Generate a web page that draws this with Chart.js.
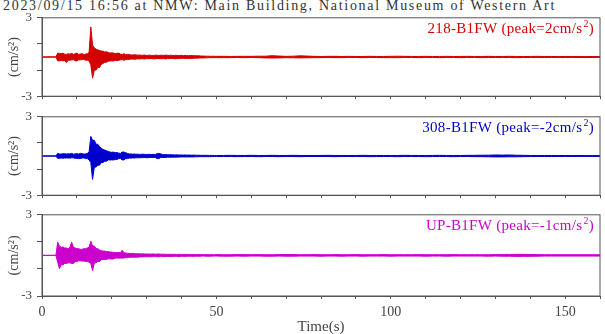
<!DOCTYPE html>
<html>
<head>
<meta charset="utf-8">
<script src="https://cdn.jsdelivr.net/npm/chart.js@4/dist/chart.umd.min.js"></script>
<style>
  body { margin: 0; width: 605px; height: 334px; background: #fff; overflow: hidden; position: relative; font-family: "Liberation Serif", serif; }
  .panel { position: absolute; left: 0; width: 605px; }
  #titre { position: absolute; left: 3px; top: -2px; font-size: 14px; letter-spacing: 1.7px; color: #333; white-space: nowrap; }
</style>
</head>
<body>
<div id="titre">2023/09/15 16:56 at NMW: Main Building, National Museum of Western Art</div>
<div class="panel" style="top:5px;height:104px"><canvas id="c1"></canvas></div>
<div class="panel" style="top:104px;height:104px"><canvas id="c2"></canvas></div>
<div class="panel" style="top:202px;height:135px"><canvas id="c3"></canvas></div>
<script>
// envelope (max / min) of each trace: 0-50 s every 0.5 s, then 52-160 s every 2 s
const passo1 = 0.5;
const inicio2 = 52, passo2 = 2;

const xTicks = [0, 50, 100, 150];
const yTicks = [-3, 0, 3];

// 218-B1FW
const s218Max = [
  0.01, 0.01, 0.01, 0.01, 0.01, 0.01, 0.01, 0.01, 0.01,
  0.3, 0.28, 0.25, 0.3, 0.22, 0.2, 0.25, 0.22, 0.28, 0.2, 0.24, 0.3, 0.2, 0.22, 0.26, 0.18, 0.22, 0.25, 0.35,
  2.3, 0.9, 0.7, 0.6, 0.55, 0.5, 0.45, 0.45, 0.38, 0.4, 0.35, 0.3, 0.32,
  0.3, 0.25, 0.28, 0.3, 0.22, 0.2, 0.25, 0.18, 0.2, 0.2, 0.16, 0.15, 0.18, 0.16, 0.14, 0.15, 0.13, 0.14, 0.15, 0.12,
  0.13, 0.14, 0.12, 0.12, 0.14, 0.13, 0.12, 0.14, 0.13, 0.12, 0.15, 0.13, 0.12, 0.14, 0.11, 0.12, 0.13, 0.11, 0.12, 0.13,
  0.1, 0.12, 0.11, 0.1, 0.12, 0.11, 0.1, 0.1, 0.09, 0.09, 0.08, 0.07, 0.07, 0.06, 0.06, 0.06, 0.05, 0.06, 0.05, 0.05,
  0.05, 0.04, 0.05, 0.05, 0.05, 0.06, 0.06, 0.1, 0.07, 0.05, 0.06, 0.09, 0.07, 0.05, 0.04, 0.05, 0.05, 0.04, 0.05, 0.04,
  0.04, 0.05, 0.04, 0.04, 0.05, 0.06, 0.05, 0.04, 0.04, 0.05, 0.04, 0.04, 0.05, 0.04, 0.04, 0.05, 0.04, 0.04, 0.05, 0.04,
  0.04, 0.05, 0.04, 0.04, 0.04, 0.05, 0.04, 0.04, 0.03, 0.04, 0.04, 0.04, 0.03, 0.04, 0.03
];
const s218Min = [
  -0.01, -0.01, -0.01, -0.01, -0.01, -0.01, -0.01, -0.01, -0.01,
  -0.28, -0.3, -0.25, -0.3, -0.28, -0.42, -0.25, -0.25, -0.22, -0.2, -0.28, -0.3, -0.22, -0.22, -0.2, -0.18, -0.25, -0.25, -0.3,
  -0.6, -1.62, -1.0, -1.0, -0.8, -0.8, -0.55, -0.5, -0.4, -0.4, -0.32, -0.3, -0.3,
  -0.3, -0.25, -0.28, -0.25, -0.22, -0.2, -0.25, -0.2, -0.2, -0.18, -0.16, -0.16, -0.18, -0.15, -0.14, -0.15, -0.13, -0.14, -0.15, -0.12,
  -0.13, -0.12, -0.12, -0.14, -0.14, -0.12, -0.12, -0.13, -0.13, -0.12, -0.15, -0.12, -0.12, -0.11, -0.11, -0.13, -0.13, -0.12, -0.12, -0.1,
  -0.1, -0.11, -0.11, -0.12, -0.12, -0.1, -0.1, -0.09, -0.09, -0.08, -0.08, -0.07, -0.07, -0.06, -0.06, -0.05, -0.05, -0.05, -0.05, -0.05,
  -0.05, -0.05, -0.04, -0.05, -0.04, -0.05, -0.07, -0.08, -0.07, -0.05, -0.06, -0.07, -0.06, -0.05, -0.05, -0.04, -0.05, -0.05, -0.04, -0.04,
  -0.05, -0.04, -0.04, -0.05, -0.05, -0.05, -0.04, -0.04, -0.05, -0.04, -0.04, -0.05, -0.04, -0.04, -0.05, -0.04, -0.04, -0.05, -0.04, -0.04,
  -0.04, -0.04, -0.05, -0.04, -0.04, -0.04, -0.04, -0.03, -0.04, -0.04, -0.03, -0.04, -0.04, -0.03, -0.03
];

// 308-B1FW
const s308Max = [
  0.01, 0.01, 0.01, 0.01, 0.01, 0.01, 0.01, 0.01, 0.01,
  0.2, 0.15, 0.15, 0.17, 0.18, 0.15, 0.17, 0.16, 0.2, 0.14, 0.16, 0.18, 0.15, 0.2, 0.18, 0.15, 0.16, 0.2, 0.3,
  1.5, 1.2, 1.2, 0.9, 0.9, 0.7, 0.6, 0.5, 0.45, 0.4, 0.35, 0.3, 0.28,
  0.3, 0.25, 0.27, 0.22, 0.2, 0.3, 0.3, 0.25, 0.2, 0.15, 0.16, 0.14, 0.15, 0.13, 0.14, 0.12, 0.13, 0.14, 0.12, 0.12,
  0.13, 0.12, 0.11, 0.13, 0.12, 0.18, 0.2, 0.17, 0.12, 0.1, 0.11, 0.1, 0.09, 0.1, 0.09, 0.08, 0.09, 0.08, 0.08, 0.08,
  0.07, 0.08, 0.07, 0.07, 0.07, 0.06, 0.07, 0.06, 0.06, 0.06, 0.05, 0.05, 0.05, 0.05, 0.05, 0.04, 0.05, 0.04, 0.04, 0.04,
  0.04, 0.05, 0.04, 0.04, 0.05, 0.04, 0.04, 0.05, 0.04, 0.04, 0.05, 0.04, 0.04, 0.04, 0.04, 0.05, 0.04, 0.04, 0.04, 0.04,
  0.05, 0.04, 0.04, 0.04, 0.04, 0.04, 0.05, 0.04, 0.04, 0.04, 0.04, 0.05, 0.04, 0.04, 0.04, 0.05, 0.05, 0.06, 0.06, 0.08,
  0.07, 0.08, 0.06, 0.05, 0.04, 0.04, 0.04, 0.04, 0.04, 0.04, 0.03, 0.04, 0.03, 0.03, 0.03
];
const s308Min = [
  -0.01, -0.01, -0.01, -0.01, -0.01, -0.01, -0.01, -0.01, -0.01,
  -0.18, -0.18, -0.16, -0.17, -0.15, -0.15, -0.16, -0.16, -0.14, -0.14, -0.18, -0.18, -0.2, -0.2, -0.15, -0.15, -0.2, -0.2, -0.3,
  -0.5, -1.79, -0.85, -0.85, -0.7, -0.7, -0.5, -0.5, -0.4, -0.4, -0.3, -0.3, -0.3,
  -0.3, -0.27, -0.27, -0.2, -0.2, -0.3, -0.3, -0.2, -0.2, -0.16, -0.16, -0.15, -0.15, -0.14, -0.14, -0.13, -0.13, -0.12, -0.12, -0.13,
  -0.13, -0.11, -0.11, -0.12, -0.12, -0.2, -0.2, -0.12, -0.12, -0.11, -0.11, -0.09, -0.09, -0.09, -0.09, -0.09, -0.09, -0.08, -0.08, -0.07,
  -0.07, -0.07, -0.07, -0.07, -0.07, -0.07, -0.07, -0.06, -0.06, -0.05, -0.05, -0.05, -0.05, -0.05, -0.05, -0.05, -0.05, -0.04, -0.04, -0.04,
  -0.04, -0.04, -0.05, -0.04, -0.04, -0.05, -0.04, -0.04, -0.05, -0.04, -0.04, -0.05, -0.04, -0.04, -0.04, -0.04, -0.05, -0.04, -0.04, -0.04,
  -0.04, -0.05, -0.04, -0.04, -0.04, -0.05, -0.04, -0.04, -0.04, -0.05, -0.04, -0.04, -0.04, -0.05, -0.04, -0.04, -0.05, -0.05, -0.06, -0.07,
  -0.07, -0.06, -0.06, -0.05, -0.04, -0.04, -0.04, -0.04, -0.04, -0.03, -0.04, -0.03, -0.03, -0.03, -0.03
];

// UP-B1FW
const sUpMax = [
  0.01, 0.01, 0.01, 0.01, 0.01, 0.01, 0.01, 0.01, 0.02,
  0.98, 0.7, 0.6, 0.62, 0.55, 0.55, 0.5, 0.6, 0.98, 0.6, 0.55, 0.5, 0.5, 0.45, 0.45, 0.5, 0.5, 0.55, 0.6,
  1.05, 0.7, 0.7, 0.5, 0.5, 0.4, 0.35, 0.32, 0.32, 0.28, 0.28, 0.25, 0.25,
  0.22, 0.22, 0.2, 0.22, 0.2, 0.38, 0.2, 0.18, 0.16, 0.15, 0.14, 0.15, 0.13, 0.12, 0.13, 0.12, 0.11, 0.12, 0.1, 0.11,
  0.1, 0.1, 0.1, 0.11, 0.09, 0.1, 0.1, 0.09, 0.09, 0.09, 0.08, 0.08, 0.08, 0.08, 0.08, 0.08, 0.07, 0.07, 0.08, 0.07,
  0.07, 0.07, 0.07, 0.07, 0.06, 0.06, 0.07, 0.06, 0.06, 0.06, 0.06, 0.06, 0.05, 0.06, 0.06, 0.05, 0.06, 0.05, 0.05, 0.06,
  0.05, 0.05, 0.06, 0.06, 0.05, 0.06, 0.05, 0.05, 0.06, 0.07, 0.06, 0.05, 0.05, 0.06, 0.05, 0.05, 0.06, 0.05, 0.05, 0.06,
  0.05, 0.05, 0.05, 0.06, 0.05, 0.05, 0.05, 0.05, 0.06, 0.05, 0.05, 0.05, 0.05, 0.06, 0.05, 0.05, 0.05, 0.05, 0.05, 0.06,
  0.06, 0.07, 0.08, 0.08, 0.07, 0.06, 0.05, 0.05, 0.05, 0.05, 0.05, 0.05, 0.05, 0.05, 0.05
];
const sUpMin = [
  -0.01, -0.01, -0.01, -0.01, -0.01, -0.01, -0.01, -0.01, -0.01,
  -0.5, -0.98, -0.7, -0.7, -0.6, -0.6, -0.55, -0.55, -0.6, -0.6, -0.45, -0.45, -0.4, -0.4, -0.42, -0.42, -0.45, -0.45, -0.5,
  -0.6, -1.12, -0.55, -0.55, -0.45, -0.45, -0.3, -0.3, -0.3, -0.3, -0.25, -0.25, -0.27,
  -0.27, -0.2, -0.2, -0.2, -0.2, -0.2, -0.2, -0.16, -0.16, -0.14, -0.14, -0.13, -0.13, -0.13, -0.13, -0.11, -0.11, -0.1, -0.1, -0.1,
  -0.1, -0.1, -0.1, -0.09, -0.09, -0.1, -0.1, -0.09, -0.09, -0.08, -0.08, -0.08, -0.08, -0.08, -0.08, -0.07, -0.07, -0.08, -0.08, -0.07,
  -0.07, -0.07, -0.07, -0.06, -0.06, -0.07, -0.07, -0.06, -0.06, -0.06, -0.06, -0.05, -0.05, -0.06, -0.06, -0.06, -0.06, -0.05, -0.05, -0.05,
  -0.06, -0.06, -0.05, -0.06, -0.05, -0.05, -0.06, -0.06, -0.05, -0.06, -0.06, -0.05, -0.05, -0.05, -0.06, -0.05, -0.05, -0.06, -0.05, -0.05,
  -0.06, -0.05, -0.05, -0.05, -0.06, -0.05, -0.05, -0.05, -0.05, -0.06, -0.05, -0.05, -0.06, -0.05, -0.05, -0.05, -0.05, -0.05, -0.06, -0.05,
  -0.06, -0.06, -0.08, -0.07, -0.07, -0.06, -0.05, -0.05, -0.05, -0.05, -0.05, -0.05, -0.05, -0.05, -0.05
];

const fonte = '"Liberation Serif", serif';
const cinza = '#555';

function tempo(i) {
  const n1 = (50 / passo1) + 1;
  return i < n1 ? i * passo1 : inicio2 + (i - n1) * passo2;
}

function montarPontos(valores) {
  return valores.map((v, i) => ({ x: tempo(i), y: v }));
}

// moldura e rótulo do canal
const moldura = {
  id: 'moldura',
  afterDraw(chart, args, opts) {
    const { ctx, chartArea: a } = chart;
    ctx.save();
    ctx.strokeStyle = cinza;
    ctx.lineWidth = 1;
    ctx.strokeRect(a.left, a.top, a.right - a.left, a.bottom - a.top);
    ctx.fillStyle = opts.cor;
    ctx.textBaseline = 'alphabetic';
    ctx.letterSpacing = '0.3px';
    const f1 = '15px ' + fonte, f2 = '10px ' + fonte;
    ctx.font = f1;
    const w1 = ctx.measureText(opts.texto).width;
    const w3 = ctx.measureText(')').width;
    ctx.font = f2;
    const w2 = ctx.measureText('2').width;
    let x = a.right - 6 - (w1 + w2 + w3 + 1);
    const y = a.top + 15;
    ctx.font = f1;
    ctx.fillText(opts.texto, x, y);
    x += w1 + 1;
    ctx.font = f2;
    ctx.fillText('2', x, y - 6);
    x += w2;
    ctx.font = f1;
    ctx.fillText(')', x, y);
    ctx.restore();
  }
};

function criarPainel(id, maximos, minimos, cor, texto, ultimo) {
  const ctx = document.getElementById(id).getContext('2d');
  return new Chart(ctx, {
    type: 'line',
    data: {
      datasets: [{
        data: montarPontos(maximos),
        borderColor: cor,
        backgroundColor: cor,
        borderWidth: 1,
        pointRadius: 0,
        tension: 0,
        fill: '+1'
      }, {
        data: montarPontos(minimos),
        borderColor: cor,
        borderWidth: 1,
        pointRadius: 0,
        tension: 0,
        fill: false
      }]
    },
    options: {
      responsive: true,
      maintainAspectRatio: false,
      animation: false,
      layout: { padding: { top: 10, right: 1, left: 0, bottom: 0 } },
      plugins: {
        legend: { display: false },
        tooltip: { enabled: false },
        moldura: { cor: cor, texto: texto }
      },
      scales: {
        x: {
          type: 'linear',
          min: 0,
          max: 160,
          afterFit: (s) => { s.height = ultimo ? 41 : 10; },
          grid: { drawOnChartArea: false, tickLength: 3, color: cinza },
          border: { color: cinza },
          ticks: {
            stepSize: 10,
            autoSkip: false,
            maxRotation: 0,
            padding: 5,
            color: '#444',
            font: { family: fonte, size: 14 },
            callback: (v) => (ultimo && xTicks.includes(v)) ? v : ''
          },
          title: {
            display: ultimo,
            text: 'Time(s)',
            color: '#444',
            font: { family: fonte, size: 15 },
            padding: { top: 0, bottom: 1 }
          }
        },
        y: {
          min: -3,
          max: 3,
          afterFit: (s) => { s.width = 42; },
          grid: { drawOnChartArea: false, tickLength: 5, color: cinza },
          border: { color: cinza },
          ticks: {
            stepSize: 1,
            padding: 5,
            color: '#444',
            font: { family: fonte, size: 13 },
            callback: (v) => yTicks.includes(v) ? v : ''
          },
          title: {
            display: true,
            text: '(cm/s²)',
            color: '#444',
            font: { family: fonte, size: 14 },
            padding: { top: 6, bottom: 0 }
          }
        }
      }
    },
    plugins: [moldura]
  });
}

criarPainel('c1', s218Max, s218Min, '#d40000', '218-B1FW (peak=2cm/s', false);
criarPainel('c2', s308Max, s308Min, '#0000cc', '308-B1FW (peak=-2cm/s', false);
criarPainel('c3', sUpMax, sUpMin, '#cc00cc', 'UP-B1FW (peak=-1cm/s', true);
</script>
</body>
</html>
